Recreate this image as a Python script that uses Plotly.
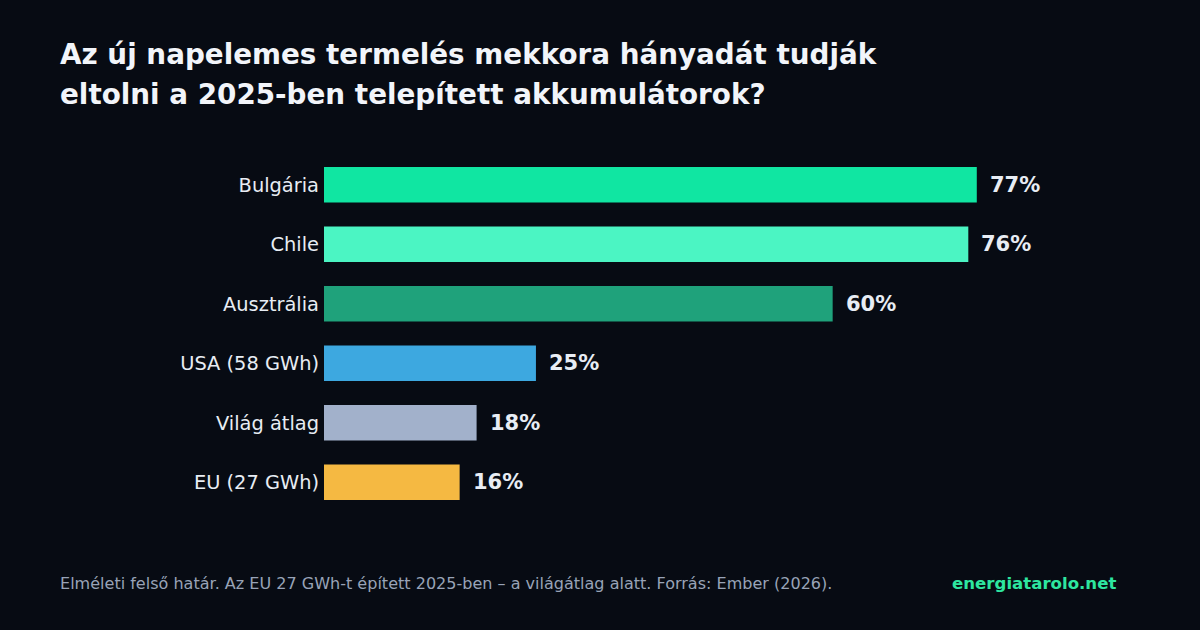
import plotly.graph_objects as go

# data
countries = ["Bulgária", "Chile", "Ausztrália", "USA (58 GWh)", "Világ átlag", "EU (27 GWh)"]
shares = [77, 76, 60, 25, 18, 16]
bar_colors = ["#10e6a2", "#4bf5c3", "#1fa27b", "#3da8e0", "#a2b1cb", "#f5b942"]
title_lines = ["Az új napelemes termelés mekkora hányadát tudják",
               "eltolni a 2025-ben telepített akkumulátorok?"]

BG = "#070b13"
TXT = "#e8edf4"

# plot area in page pixels
L, R, T, B = 324, 113, 155, 118
PW, PH = 1200 - L - R, 630 - T - B


def px_x(x):
    return (x - L) / PW


def px_y(y):
    return 1 + (T - y) / PH


fig = go.Figure()
fig.add_trace(go.Bar(
    x=shares, y=countries, orientation="h",
    marker=dict(color=bar_colors, line=dict(width=0)),
    width=0.6, hoverinfo="skip",
))

# value labels just right of each bar
for c, v in zip(countries, shares):
    fig.add_annotation(x=v, y=c, text=f"<b>{v}%</b>", showarrow=False,
                       xanchor="left", xshift=11,
                       font=dict(family="DejaVu Sans", size=21, color=TXT))

fig.update_layout(
    width=1200, height=630,
    paper_bgcolor=BG, plot_bgcolor=BG,
    margin=dict(l=L, r=R, t=T, b=B),
    showlegend=False,
    font=dict(family="DejaVu Sans", color=TXT),
    xaxis=dict(range=[0, 90], visible=False, fixedrange=True),
    yaxis=dict(autorange="reversed", showgrid=False, zeroline=False,
               showline=False, ticks="", ticklabelstandoff=4,
               tickfont=dict(size=19.4, color=TXT)),
)

for line, yc in zip(title_lines, [54, 95]):
    fig.add_annotation(xref="paper", yref="paper", x=px_x(58), y=px_y(yc),
                       xanchor="left", yanchor="middle", showarrow=False,
                       text=f"<b>{line}</b>",
                       font=dict(family="DejaVu Sans", size=27.8, color="#f2f5fa"))

fig.add_annotation(xref="paper", yref="paper", x=px_x(58), y=px_y(583),
                   xanchor="left", yanchor="middle", showarrow=False,
                   text="Elméleti felső határ. Az EU 27 GWh-t épített 2025-ben – a világátlag alatt. Forrás: Ember (2026).",
                   font=dict(family="DejaVu Sans", size=16.05, color="#98a3b7"))

fig.add_annotation(xref="paper", yref="paper", x=px_x(1118), y=px_y(583),
                   xanchor="right", yanchor="middle", showarrow=False,
                   text="<b>energiatarolo.net</b>",
                   font=dict(family="DejaVu Sans", size=16.6, color="#2ee6a0"))

fig.write_html("out.html", config={"displayModeBar": False},
               post_script="document.body.style.margin='0';")
